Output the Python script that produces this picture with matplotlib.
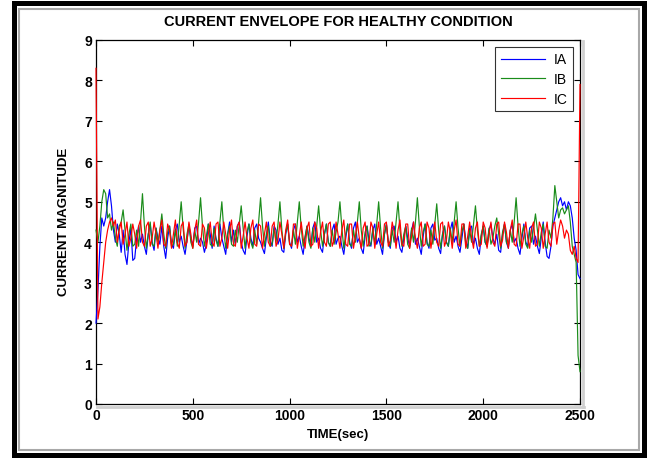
import numpy as np
import matplotlib
matplotlib.use("Agg")
import matplotlib.pyplot as plt
from matplotlib.patches import Rectangle
from matplotlib.lines import Line2D

# sample times, one every 10 s
time_sec = np.arange(0, 2501, 10)

ia = [
    2.0, 2.8, 3.9, 4.6, 4.4, 4.6, 5.0, 5.3, 4.9, 4.3,
    4.0, 4.45, 4.2, 3.75, 4.3, 3.7, 3.45, 4.0, 4.35, 3.55,
    3.6, 4.1, 4.4, 4.0, 4.2, 3.9, 3.7, 4.2, 4.45, 4.0,
    3.8, 4.35, 4.1, 3.95, 4.4, 3.9, 3.6, 4.1, 4.4, 3.95,
    3.85, 4.3, 4.45, 4.0, 4.15, 3.9, 3.7, 4.05, 4.4, 4.1,
    3.9, 4.35, 4.4, 3.95, 4.1, 4.0, 3.75, 3.95, 4.45, 4.2,
    3.85, 4.4, 4.1, 3.9, 4.45, 4.1, 3.9, 3.7, 4.2, 4.5,
    4.0, 4.3, 3.95, 4.4, 4.5, 4.0, 3.8, 3.7, 4.15, 4.45,
    4.1, 3.9, 4.35, 4.45, 4.1, 4.0, 3.85, 3.72, 4.1, 4.5,
    4.05, 3.9, 4.4, 4.3, 3.95, 4.1, 3.8, 3.75, 4.2, 4.45,
    4.0, 3.85, 4.3, 4.45, 4.0, 4.15, 3.9, 3.7, 4.1, 4.4,
    4.1, 3.9, 4.35, 4.5, 4.0, 4.1, 3.85, 3.75, 4.2, 4.45,
    4.0, 3.9, 4.3, 4.45, 3.95, 4.1, 4.15, 3.9, 3.7, 4.1,
    4.45, 4.0, 3.85, 4.35, 4.5, 4.0, 4.1, 3.85, 3.72, 4.15,
    4.4, 4.05, 3.9, 4.3, 4.45, 3.95, 4.1, 3.9, 3.7, 4.2,
    4.45, 4.0, 3.85, 4.35, 4.4, 4.0, 4.15, 3.85, 3.75, 4.1,
    4.4, 4.1, 3.9, 4.3, 4.5, 3.95, 4.1, 3.9, 3.7, 4.15,
    4.45, 4.0, 3.85, 4.35, 4.45, 4.05, 4.1, 3.85, 3.72, 4.2,
    4.4, 4.0, 3.9, 4.3, 4.5, 4.0, 4.15, 3.9, 3.75, 4.1,
    4.45, 4.05, 3.85, 4.35, 4.4, 3.95, 4.1, 3.85, 3.7, 4.15,
    4.4, 4.0, 3.9, 4.3, 4.45, 4.1, 3.95, 4.2, 3.8, 3.75,
    4.2, 4.45, 4.0, 3.85, 4.3, 4.45, 4.0, 4.1, 3.85, 3.7,
    4.1, 4.45, 4.0, 3.9, 4.35, 4.4, 3.95, 4.15, 3.9, 3.72,
    4.1, 4.5, 4.0, 3.65, 3.6, 3.9, 4.4, 4.6, 4.8, 5.0,
    5.1, 4.9, 5.0, 4.8, 5.0, 4.9, 4.6, 4.1, 3.8, 3.2,
    3.1,
]

ib = [
    4.3, 4.0, 4.4, 5.0, 5.3, 5.2, 4.6, 4.7, 4.3, 4.5,
    4.1, 3.9, 4.4, 4.5, 4.8, 4.3, 3.8, 4.2, 4.45, 3.9,
    3.95, 4.3, 3.9, 4.5, 5.2, 4.4, 3.85, 4.2, 4.5, 3.95,
    3.9, 4.35, 4.0, 4.3, 4.7, 4.2, 3.85, 4.25, 4.4, 3.9,
    3.95, 4.3, 3.9, 4.45, 5.0, 4.35, 3.85, 4.2, 4.45, 4.0,
    3.85, 4.3, 4.0, 4.5, 5.1, 4.4, 3.9, 4.15, 4.45, 3.95,
    3.9, 4.35, 4.05, 3.9, 4.5, 5.0, 4.3, 3.85, 4.2, 4.4,
    3.95, 3.9, 4.3, 4.0, 4.45, 4.9, 4.35, 3.85, 4.25, 4.45,
    4.0, 3.85, 4.3, 3.95, 4.5, 5.1, 4.4, 3.9, 4.2, 4.4,
    3.9, 3.95, 4.35, 4.0, 4.45, 5.0, 4.3, 3.85, 4.25, 4.45,
    3.95, 3.9, 4.3, 3.95, 4.5, 5.0, 4.35, 3.9, 4.15, 4.4,
    4.0, 3.85, 4.35, 4.0, 4.4, 4.9, 4.3, 3.9, 4.2, 4.45,
    4.0, 3.9, 4.3, 3.95, 4.25, 4.5, 5.0, 4.35, 3.85, 4.2,
    4.45, 3.95, 3.9, 4.3, 4.0, 4.5, 5.0, 4.3, 3.9, 4.25,
    4.4, 3.9, 3.95, 4.35, 3.95, 4.45, 5.0, 4.35, 3.85, 4.2,
    4.45, 4.0, 3.9, 4.3, 4.0, 4.5, 5.0, 4.3, 3.9, 4.2,
    4.4, 3.95, 3.85, 4.35, 4.0, 4.5, 5.1, 4.4, 3.9, 4.25,
    4.45, 3.95, 3.9, 4.3, 3.95, 4.45, 4.95, 4.3, 3.85, 4.2,
    4.4, 4.0, 3.9, 4.35, 4.0, 4.5, 5.0, 4.35, 3.9, 4.25,
    4.45, 3.95, 3.85, 4.3, 4.0, 4.45, 4.9, 4.3, 3.9, 4.2,
    4.4, 4.0, 3.9, 4.35, 3.95, 4.1, 4.4, 4.6, 4.2, 3.85,
    4.25, 4.45, 4.0, 3.9, 4.3, 4.0, 4.5, 5.1, 4.4, 3.9,
    4.2, 4.4, 3.95, 3.85, 4.3, 4.0, 4.35, 4.7, 4.3, 3.9,
    4.25, 4.45, 3.9, 3.85, 4.3, 4.1, 4.6, 5.4, 5.0, 4.6,
    4.8, 4.85, 4.7, 4.8, 4.9, 4.5, 3.9, 3.7, 3.5, 1.2,
    0.8,
]

ic = [
    8.3, 2.1, 2.4, 3.0, 3.5, 4.0, 4.3, 4.5, 4.6, 4.4,
    4.55, 4.0, 4.3, 4.5, 3.95, 4.2, 4.5, 3.9, 4.1, 4.45,
    4.2, 3.85, 4.4, 4.55, 4.0, 3.9, 4.4, 4.5, 3.9, 4.1,
    4.5, 4.2, 3.85, 4.3, 4.55, 3.95, 3.9, 4.45, 4.3, 3.85,
    4.2, 4.55, 4.0, 3.85, 4.4, 4.5, 3.9, 4.0, 4.5, 4.2,
    3.85, 4.3, 4.55, 3.95, 3.9, 4.45, 4.35, 3.85, 4.2, 4.5,
    4.0, 3.9, 4.45, 4.5, 3.9, 4.1, 4.5, 4.2, 3.85, 4.3,
    4.55, 3.95, 3.9, 4.4, 4.5, 3.85, 4.15, 4.5, 4.1, 3.85,
    4.35, 4.55, 3.95, 3.9, 4.45, 4.4, 3.85, 4.2, 4.5, 4.0,
    3.9, 4.4, 4.5, 3.9, 4.05, 4.5, 4.2, 3.85, 4.3, 4.55,
    3.95, 3.9, 4.45, 4.45, 3.85, 4.15, 4.5, 4.1, 3.85, 4.35,
    4.5, 3.9, 3.95, 4.5, 4.35, 3.85, 4.25, 4.5, 4.0, 3.9,
    4.45, 4.5, 3.9, 4.05, 4.5, 4.2, 3.85, 4.3, 4.55, 3.95,
    3.9, 4.45, 4.45, 3.85, 4.15, 4.5, 4.1, 3.85, 4.35, 4.5,
    3.9, 3.95, 4.5, 4.35, 3.85, 4.2, 4.5, 4.0, 3.9, 4.45,
    4.5, 3.9, 4.05, 4.5, 4.25, 3.85, 4.3, 4.55, 3.95, 3.9,
    4.45, 4.45, 3.85, 4.15, 4.5, 4.1, 3.85, 4.35, 4.5, 3.9,
    3.95, 4.5, 4.35, 3.85, 4.2, 4.5, 4.0, 3.9, 4.45, 4.5,
    3.9, 4.05, 4.5, 4.25, 3.85, 4.3, 4.55, 3.95, 3.9, 4.45,
    4.45, 3.85, 4.15, 4.5, 4.1, 3.85, 4.35, 4.5, 3.9, 3.95,
    4.5, 4.35, 3.85, 4.2, 4.5, 4.0, 3.9, 4.45, 4.5, 3.9,
    4.05, 4.5, 4.25, 3.85, 4.3, 4.55, 3.95, 3.9, 4.45, 4.45,
    3.85, 4.15, 4.5, 4.1, 3.85, 4.35, 4.5, 3.9, 3.95, 4.5,
    4.35, 3.85, 4.2, 4.5, 4.0, 3.9, 4.45, 4.5, 3.95, 4.3,
    4.55, 4.4, 4.1, 4.3, 4.2, 3.8, 3.7, 3.9, 3.6, 3.5,
    7.9,
]

series_names = ["IA", "IB", "IC"]
series_colors = ["#0000ff", "#1a8c1a", "#ff0000"]

W, H = 647, 460
plt.rcParams["font.family"] = ["Liberation Sans", "DejaVu Sans"]

fig = plt.figure(figsize=(W / 100, H / 100), dpi=100)
ax = fig.add_axes([96 / W, 1 - 405 / H, 484 / W, 364 / H])

for vals, name, col in zip([ia, ib, ic], series_names, series_colors):
    # drawn above the spines so the start/end jumps show on the frame
    ax.plot(time_sec, vals, color=col, lw=0.85, label=name, zorder=3,
            clip_on=False)

ax.set_xlim(0, 2500)
ax.set_ylim(0, 9)
ax.set_xticks(range(0, 2501, 500))
ax.set_yticks(range(0, 10))
ax.tick_params(direction="in", top=True, right=True, length=4, width=0.8,
               labelsize=10, pad=3)
for lab in ax.get_xticklabels() + ax.get_yticklabels():
    lab.set_fontweight("bold")
for sp in ax.spines.values():
    sp.set_linewidth(0.9)

leg = ax.legend(loc="upper right", fancybox=False, edgecolor="black",
                fontsize=10, handlelength=3.2, handletextpad=0.6,
                borderaxespad=0.5, labelspacing=0.4)
leg.get_frame().set_linewidth(0.8)
leg.set_zorder(5)

fig.text(338 / W, 1 - 22 / H, "CURRENT ENVELOPE FOR HEALTHY CONDITION",
         ha="center", va="center", fontsize=10.5, fontweight="bold")
fig.text(64 / W, 1 - 222 / H, "CURRENT MAGNITUDE", rotation=90,
         ha="center", va="center", fontsize=9.5, fontweight="bold")
fig.text(338 / W, 1 - 435 / H, "TIME(sec)", ha="center", va="center",
         fontsize=9.5, fontweight="bold")

# grey shadow along bottom and right of the axes
fig.add_artist(Line2D([97 / W, 584 / W], [1 - 408 / H, 1 - 408 / H],
                      color="#d0d0d0", lw=2))
fig.add_artist(Line2D([583 / W, 583 / W], [1 - 42 / H, 1 - 408 / H],
                      color="#d0d0d0", lw=2))

# page frame
fig.add_artist(Rectangle((13.5 / W, 1 - 456 / H), 630 / W, 452 / H,
                         fill=False, edgecolor="black", lw=3.6))
fig.add_artist(Rectangle((18.5 / W, 1 - 451 / H), 620 / W, 441 / H,
                         fill=False, edgecolor="#a8a8a8", lw=1.5))

fig.savefig("out.png", dpi=100)
